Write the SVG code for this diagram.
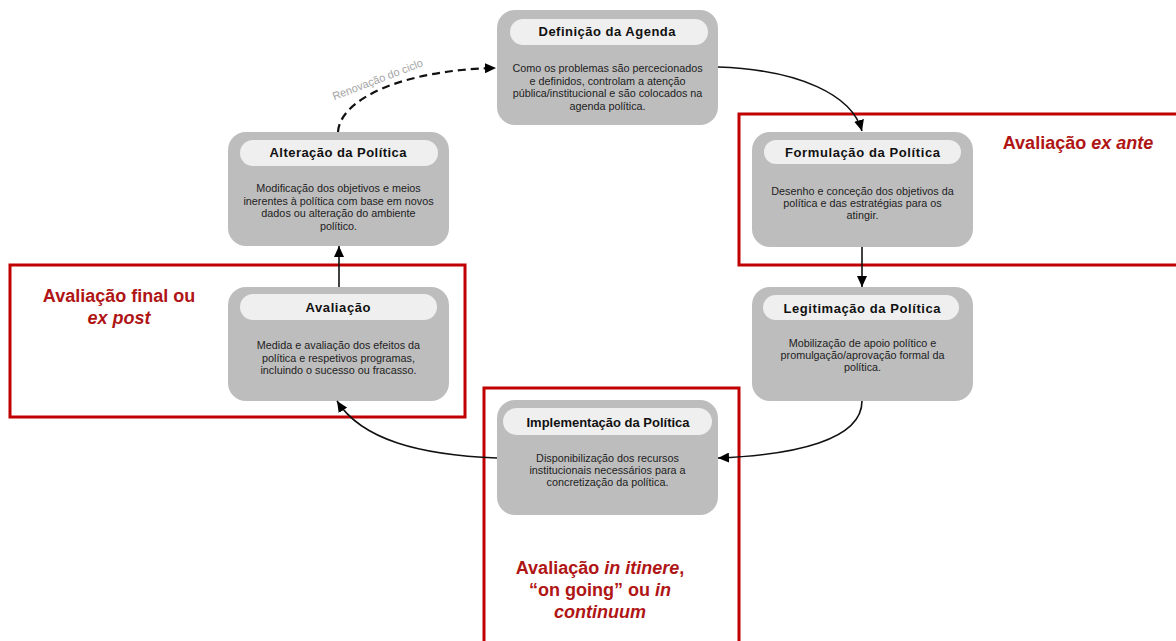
<svg xmlns="http://www.w3.org/2000/svg" width="1176" height="641" viewBox="0 0 1176 641">
<style>
.box{fill:#bdbdbd}
.pill{fill:#efefef}
.title{font-family:"Liberation Sans",Arial,sans-serif;font-weight:bold;font-size:13px;fill:#111;text-anchor:middle}
.body{font-family:"Liberation Sans",Arial,sans-serif;font-size:10.8px;fill:#222;text-anchor:middle}
.red{fill:none;stroke:#c00000;stroke-width:3}
.rt{font-family:"Liberation Sans",Arial,sans-serif;font-weight:bold;font-size:18px;fill:#b01515;text-anchor:middle}
.conn{fill:none;stroke:#111;stroke-width:1.6}
.dash{fill:none;stroke:#111;stroke-width:2.2;stroke-dasharray:8 5}
</style>
<defs>
<marker id="ah" markerUnits="userSpaceOnUse" markerWidth="12" markerHeight="10" refX="11" refY="5" orient="auto">
<path d="M0,0 L11,5 L0,10 z" fill="#000"/>
</marker>
</defs>
<rect width="1176" height="641" fill="#fff"/>

<g id="frames">
<rect class="red" x="739" y="114" width="445" height="151"/>
<rect class="red" x="10" y="265" width="455" height="152"/>
<rect class="red" x="484" y="388" width="255" height="265"/>
<text class="rt" x="1078" y="149">Avaliação <tspan font-style="italic">ex ante</tspan></text>
<text class="rt" x="119" y="302">Avaliação final ou</text>
<text class="rt" x="119" y="324" font-style="italic">ex post</text>
<text class="rt" x="600" y="574">Avaliação <tspan font-style="italic">in itinere</tspan>,</text>
<text class="rt" x="600" y="596">“on going” ou <tspan font-style="italic">in</tspan></text>
<text class="rt" x="600" y="618" font-style="italic">continuum</text>
</g>

<g id="definicao">
<rect class="box" x="497" y="10" width="221" height="115" rx="18"/>
<rect class="pill" x="510" y="19" width="198" height="26" rx="13"/>
<text class="title" x="607" y="36" textLength="137" lengthAdjust="spacing">Definição da Agenda</text>
<text class="body" x="607.5" y="72">Como os problemas são percecionados</text>
<text class="body" x="607.5" y="84.5">e definidos, controlam a atenção</text>
<text class="body" x="607.5" y="97">pública/institucional e são colocados na</text>
<text class="body" x="607.5" y="109.5">agenda política.</text>
</g>

<g id="alteracao">
<rect class="box" x="228" y="132" width="221" height="114" rx="18"/>
<rect class="pill" x="240" y="140" width="198" height="26" rx="13"/>
<text class="title" x="338" y="157" textLength="137" lengthAdjust="spacing">Alteração da Política</text>
<text class="body" x="338.5" y="192">Modificação dos objetivos e meios</text>
<text class="body" x="338.5" y="204.5">inerentes à política com base em novos</text>
<text class="body" x="338.5" y="217">dados ou alteração do ambiente</text>
<text class="body" x="338.5" y="229.5">político.</text>
</g>

<g id="formulacao">
<rect class="box" x="752" y="132" width="221" height="115" rx="18"/>
<rect class="pill" x="764" y="140" width="197" height="24" rx="12"/>
<text class="title" x="862.5" y="157" textLength="155" lengthAdjust="spacing">Formulação da Política</text>
<text class="body" x="862.5" y="195">Desenho e conceção dos objetivos da</text>
<text class="body" x="862.5" y="207">política e das estratégias para os</text>
<text class="body" x="862.5" y="219">atingir.</text>
</g>

<g id="avaliacao">
<rect class="box" x="228" y="287" width="221" height="114" rx="18"/>
<rect class="pill" x="240" y="294" width="197" height="26" rx="13"/>
<text class="title" x="338" y="312" textLength="65" lengthAdjust="spacing">Avaliação</text>
<text class="body" x="338.5" y="349">Medida e avaliação dos efeitos da</text>
<text class="body" x="338.5" y="361.5">política e respetivos programas,</text>
<text class="body" x="338.5" y="374">incluindo o sucesso ou fracasso.</text>
</g>

<g id="legitimacao">
<rect class="box" x="752" y="287" width="221" height="114" rx="18"/>
<rect class="pill" x="763" y="295" width="196" height="25" rx="12.5"/>
<text class="title" x="862" y="313" textLength="157" lengthAdjust="spacing">Legitimação da Política</text>
<text class="body" x="862.5" y="347">Mobilização de apoio político e</text>
<text class="body" x="862.5" y="359">promulgação/aprovação formal da</text>
<text class="body" x="862.5" y="371">política.</text>
</g>

<g id="implementacao">
<rect class="box" x="497" y="400" width="221" height="115" rx="18"/>
<rect class="pill" x="503" y="408" width="209" height="27" rx="13.5"/>
<text class="title" x="608" y="427" textLength="163" lengthAdjust="spacing">Implementação da Política</text>
<text class="body" x="607.5" y="462">Disponibilização dos recursos</text>
<text class="body" x="607.5" y="474">institucionais necessários para a</text>
<text class="body" x="607.5" y="486">concretização da política.</text>
</g>

<g id="connectors">
<path class="conn" d="M718,67 C800,70 852,95 862,131" marker-end="url(#ah)"/>
<path class="conn" d="M862,247 L862,287" marker-end="url(#ah)"/>
<path class="conn" d="M862,401 C862,440 795,455 718,458" marker-end="url(#ah)"/>
<path class="conn" d="M497,458 C420,455 362,440 337,401" marker-end="url(#ah)"/>
<path class="conn" d="M339,287 L339,246" marker-end="url(#ah)"/>
<path class="dash" d="M338,132 C340,100 400,70 496,68" marker-end="url(#ah)"/>
<text x="379" y="83" transform="rotate(-21 379 83)" font-family="Liberation Sans, Arial, sans-serif" font-size="11" fill="#a3a3a3" text-anchor="middle">Renovação do ciclo</text>
</g>
</svg>
